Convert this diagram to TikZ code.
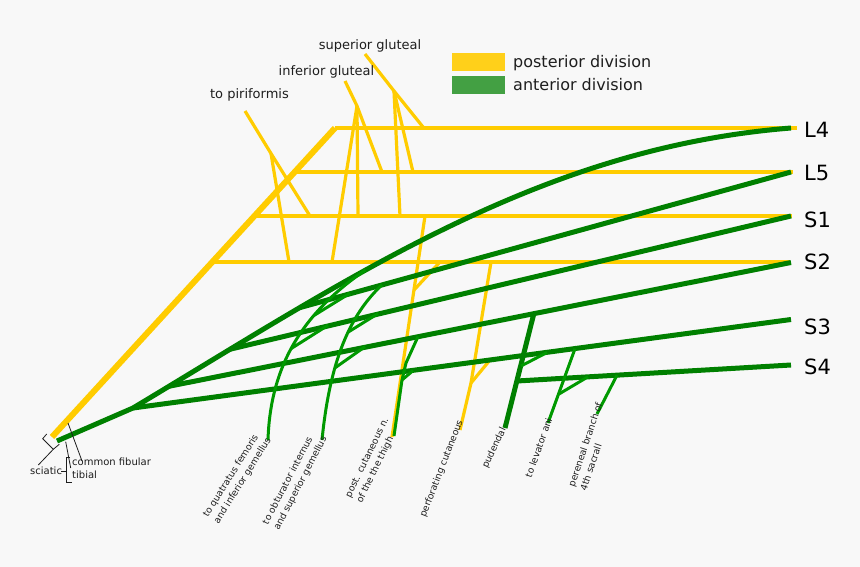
\documentclass[tikz,border=0pt]{standalone}
\usepackage{fontspec}
\setmainfont{DejaVu Sans}
\usetikzlibrary{calc}
\definecolor{post}{RGB}{255,204,0}
\definecolor{ant}{RGB}{0,128,0}
\definecolor{antthin}{RGB}{0,153,0}
\definecolor{bgc}{RGB}{248,248,248}
\definecolor{legy}{RGB}{255,208,26}
\definecolor{legg}{RGB}{67,160,67}
\definecolor{txt}{RGB}{30,30,30}
\begin{document}
\begin{tikzpicture}[x=1pt,y=-1pt,
  ydiag/.style={draw=post,line width=6pt},
  yline/.style={draw=post,line width=4.5pt},
  ythin/.style={draw=post,line width=3.2pt},
  gline/.style={draw=ant,line width=5pt},
  gthin/.style={draw=antthin,line width=3pt},
  lbl/.style={inner sep=0pt,font=\fontsize{13}{15}\selectfont,text=txt,anchor=base},
  leglbl/.style={inner sep=0pt,font=\fontsize{16}{18}\selectfont,text=txt,anchor=base west},
  rootlbl/.style={inner sep=0pt,font=\fontsize{21}{24}\selectfont,text=black,anchor=base west},
  nlbl/.style={inner sep=0pt,font=\fontsize{9.3}{12.5}\selectfont,text=txt,align=left,anchor=west},
  slbl/.style={inner sep=0pt,font=\fontsize{10}{12}\selectfont,text=txt,anchor=base west},
  tick/.style={draw=txt,line width=0.8pt}
]
\useasboundingbox (0,0) rectangle (860,567);
\fill[bgc] (0,0) rectangle (860,567);

% ---------- posterior division (yellow) ----------
\coordinate (yb) at (52,437);
\coordinate (yL4a) at (335,128);   \coordinate (yL4b) at (797,128);
\coordinate (yL5a) at (294.7,172); \coordinate (yL5b) at (793,172);
\coordinate (yS1a) at (254.4,216); \coordinate (yS1b) at (792,216);
\coordinate (yS2a) at (212.3,262); \coordinate (yS2b) at (790,262);
\draw[ydiag] (yb) -- (yL4a);
\draw[yline] (yL4a) -- (yL4b);
\draw[yline] (yL5a) -- (yL5b);
\draw[yline] (yS1a) -- (yS1b);
\draw[yline] (yS2a) -- (yS2b);

% to piriformis
\coordinate (pirT) at (245,111); \coordinate (pirJ) at (271,153.5);
\coordinate (pirS1) at (310,216); \coordinate (pirS2) at (289,262);
\draw[ythin] (pirT) -- (pirJ) -- (pirS1);
\draw[ythin] (pirJ) -- (pirS2);
% inferior gluteal
\coordinate (igT) at (345,81); \coordinate (igJ) at (357,106);
\coordinate (igL5) at (382,172); \coordinate (igS1) at (358,216); \coordinate (igS2) at (332,262);
\draw[ythin] (igT) -- (igJ) -- (igL5);
\draw[ythin] (igJ) -- (igS1);
\draw[ythin] (igJ) -- (igS2);
% superior gluteal
\coordinate (sgT) at (365,54); \coordinate (sgJ) at (394,91);
\coordinate (sgL4) at (423,127); \coordinate (sgL5) at (413,172); \coordinate (sgS1) at (400,216);
\draw[ythin] (sgT) -- (sgJ) -- (sgL4);
\draw[ythin] (sgJ) -- (sgL5);
\draw[ythin] (sgJ) -- (sgS1);
% post. cutaneous (posterior part)
\coordinate (pcyS1) at (425,216); \coordinate (pcyE) at (392,437);
\coordinate (pcyS2) at (440,262); \coordinate (pcyJ) at (414,290);
\draw[ythin] (pcyS1) -- (pcyE);
\draw[ythin] (pcyS2) -- (pcyJ);
% perforating cutaneous
\coordinate (pfS2) at (491,262); \coordinate (pfJ) at (471,383);
\coordinate (pfE) at (460,430); \coordinate (pfS3) at (490,360);
\draw[ythin] (pfS2) -- (pfJ) -- (pfE);
\draw[ythin] (pfS3) -- (pfJ);

% ---------- anterior division (green) ----------
\coordinate (gb) at (57,441);
\coordinate (gS3a) at (133,408);
\coordinate (gL4b) at (791,128);
\draw[gline,line join=round] (gb) -- (gS3a) .. controls (353,276) and (540,148) ..
  coordinate[pos=0.055] (gS2a) coordinate[pos=0.15] (gS1a)
  coordinate[pos=0.26] (gL5a) coordinate[pos=0.365] (qT) (gL4b);
\coordinate (gL5b) at (791,172);
\coordinate (gS1b) at (791,216);
\coordinate (gS2b) at (791,262.5);
\coordinate (gS3b) at (791,319.5);
\coordinate (gS4b) at (791,365);
\coordinate (pudS4) at (517,381);
\draw[gline] (gL5b) -- (gL5a);
\draw[gline] (gS1b) -- (gS1a);
\draw[gline] (gS2b) -- (gS2a);
\draw[gline] (gS3b) -- (gS3a);
\draw[gline] (gS4b) -- (pudS4);

% to quatratus femoris
\coordinate (qE) at (268,440);
\draw[gthin] (qT) .. controls (295,318) and (270,375) ..
  coordinate[pos=0.3] (qJ1) coordinate[pos=0.5] (qJ2) (qE);
\coordinate (qL5) at (350,293.2); \coordinate (qS1) at (328,325.3);
\draw[gthin] (qJ1) -- (qL5);
\draw[gthin] (qJ2) -- (qS1);
% to obturator internus
\coordinate (oT) at (382,284.8); \coordinate (oE) at (322,440);
\draw[gthin] (oT) .. controls (350,315) and (330,360) ..
  coordinate[pos=0.42] (oJ1) coordinate[pos=0.65] (oJ2) (oE);
\coordinate (oS1) at (378,313.6); \coordinate (oS2) at (365,346.7);
\draw[gthin] (oJ1) -- (oS1);
\draw[gthin] (oJ2) -- (oS2);
% post. cutaneous (anterior part)
\coordinate (pcgS2) at (418,336.6); \coordinate (pcgK) at (406,363);
\coordinate (pcgJ) at (402,380); \coordinate (pcgE) at (394,436);
\coordinate (pcgS3) at (413,370.6);
\draw[gthin,line join=round] (pcgS2) -- (pcgK) -- (pcgJ) -- (pcgE);
\draw[gthin] (pcgS3) -- (pcgJ);
% pudendal
\coordinate (pudS2) at (534,313); \coordinate (pudE) at (505,428);
\coordinate (pudS3) at (547,352.5); \coordinate (pudJ) at (521,366);
\draw[gline] (pudS2) -- (pudE);
\draw[gthin] (pudS3) -- (pudJ);
% to levator ani
\coordinate (levS3) at (575,348.7); \coordinate (levE) at (548,423);
\coordinate (levS4) at (588,376.8); \coordinate (levJ) at (559,394);
\draw[gthin] (levS3) -- (levE);
\draw[gthin] (levS4) -- (levJ);
% pereneal branch
\coordinate (perS4) at (617,375.2); \coordinate (perE) at (597,414);
\draw[gthin] (perS4) -- (perE);

% ---------- labels ----------
\node[lbl] (tsg) at (370,49.3) {superior gluteal};
\node[lbl] (tig) at (326.5,75.7) {inferior gluteal};
\node[lbl] (tpir) at (249.5,99) {to piriformis};

\fill[legy] (452,53) rectangle (505,71);
\fill[legg] (452,76) rectangle (505,94);
\node[leglbl] (tpost) at (513,67.5) {posterior division};
\node[leglbl] (tant) at (513,90.5) {anterior division};

\node[rootlbl] (rL4) at (804,137.6) {L4};
\node[rootlbl] (rL5) at (804,180.6) {L5};
\node[rootlbl] (rS1) at (804,227.6) {S1};
\node[rootlbl] (rS2) at (804,269.6) {S2};
\node[rootlbl] (rS3) at (804,334.6) {S3};
\node[rootlbl] (rS4) at (804,374.6) {S4};

\node[nlbl,rotate=58] (tq) at (211,520) {to quatratus femoris\\and inferior gemellus};
\node[nlbl,rotate=62.5] (tob) at (271,527) {to obturator internus\\and superior gemellus};
\node[nlbl,rotate=64] (tpc) at (354,500) {post. cutaneous n.\\of the the thigh};
\node[nlbl,rotate=68.7] (tpf) at (423,517) {perforating cutaneous};
\node[nlbl,rotate=64.6] (tpu) at (485,468) {pudendal};
\node[nlbl,rotate=70] (tla) at (528,477) {to levator ani};
\node[nlbl,rotate=71.4] (tpe) at (577,488.5) {pereneal branch of\\4th sacrall};

% sciatic brackets
\coordinate (sb1) at (46.7,434); \coordinate (sb2) at (42.7,438.7);
\coordinate (sb3) at (53.3,449.3); \coordinate (sb4) at (59.3,444.3);
\coordinate (sbl) at (38.3,465);
\draw[tick] (sb1) -- (sb2) -- (sb3) -- (sb4);
\draw[tick] (sb3) -- (sbl);
\node[slbl] (tsc) at (30,474) {sciatic};
\coordinate (dash1) at (61,471); \coordinate (dash2) at (66,471);
\draw[tick] (dash1) -- (dash2);
\coordinate (tb1) at (70,457); \coordinate (tb2) at (66,457);
\coordinate (tb3) at (66,482); \coordinate (tb4) at (72,482);
\draw[tick] (tb1) -- (tb2) -- (tb3) -- (tb4);
\node[slbl] (tcf) at (72,465.7) {common fibular};
\node[slbl] (ttb) at (72,478.7) {tibial};
\coordinate (cfl1) at (82,461); \coordinate (cfl2) at (68,423);
\draw[tick] (cfl1) -- (cfl2);
\coordinate (tbl1) at (70.7,468); \coordinate (tbl2) at (65.7,441.7);
\draw[tick] (tbl1) -- (tbl2);
\end{tikzpicture}
\end{document}
